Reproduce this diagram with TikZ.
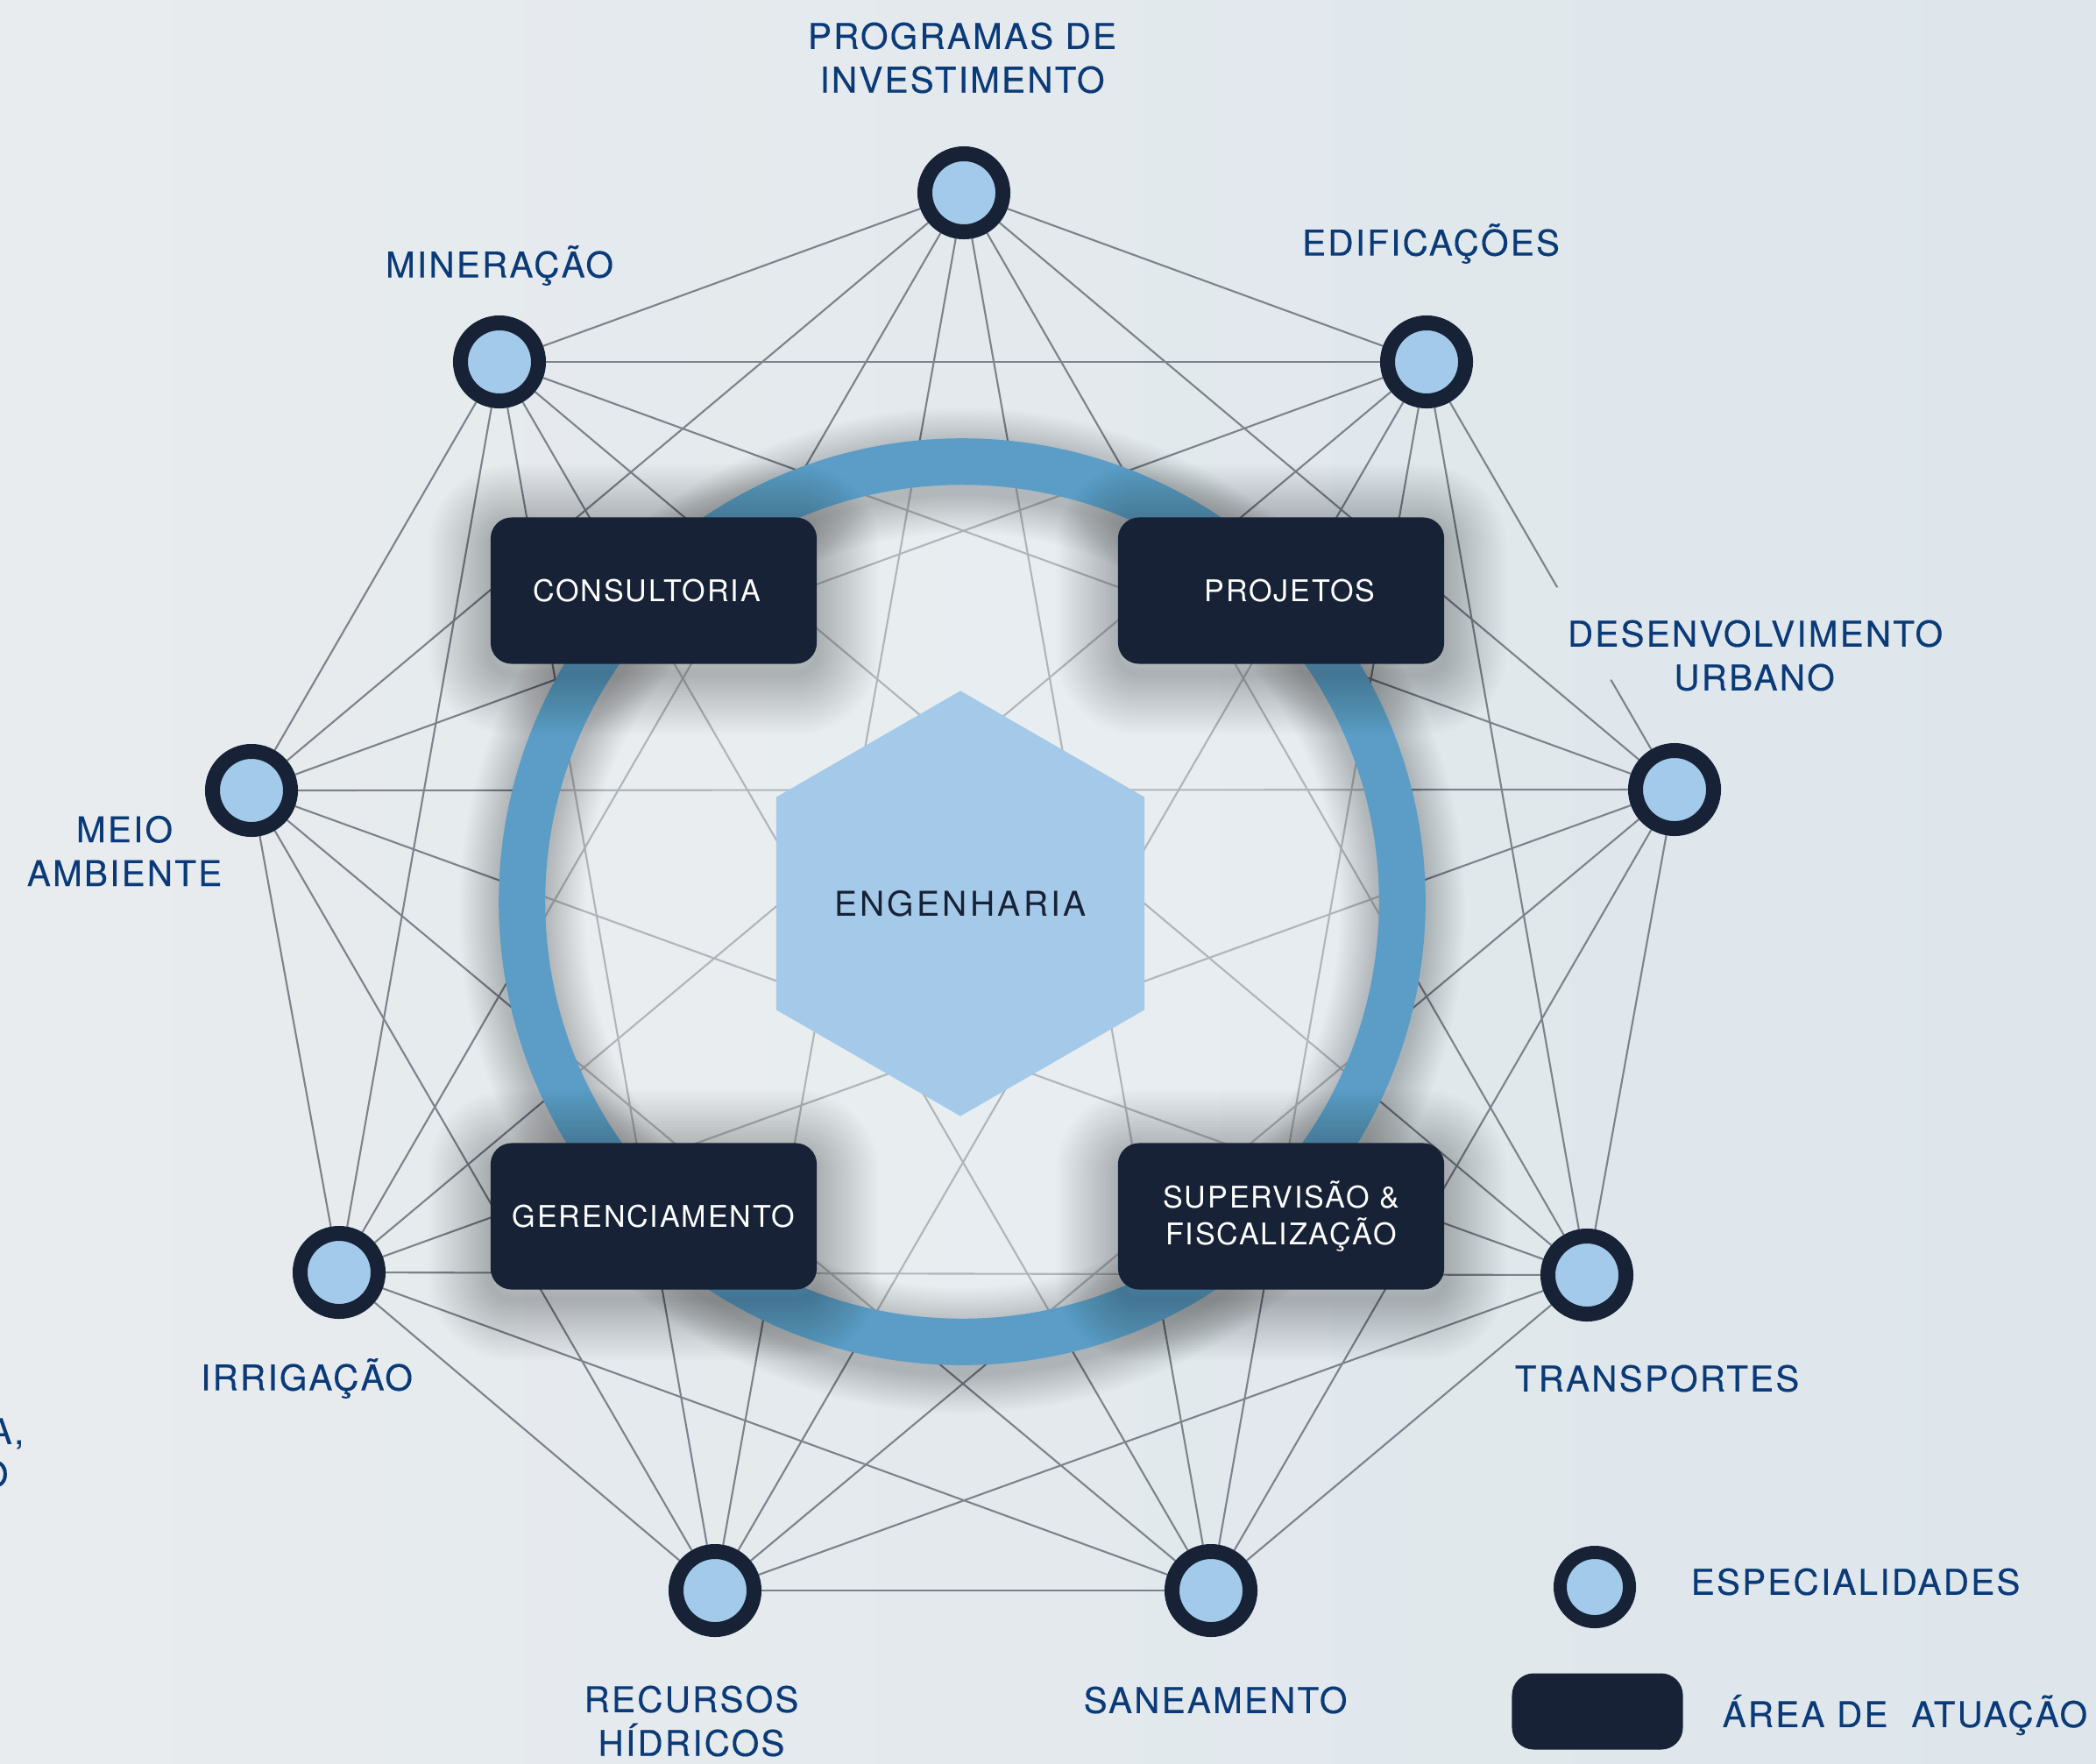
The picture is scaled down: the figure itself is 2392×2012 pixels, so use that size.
\documentclass[tikz,border=0pt]{standalone}
\usepackage{fontspec}
\usetikzlibrary{shapes.geometric}
\newfontfamily\lblfont[LetterSpace=5.5, FakeBold=0.3]{TeX Gyre Heros}
\newfontfamily\boxfont[LetterSpace=5.5]{TeX Gyre Heros}
\newfontfamily\hubfont[LetterSpace=8.5]{TeX Gyre Heros}

\definecolor{navy}{HTML}{172236}
\definecolor{labelblue}{HTML}{0A3A78}
\definecolor{dotblue}{HTML}{A3CAEA}
\definecolor{hexblue}{HTML}{A4C9E9}
\definecolor{ringblue}{HTML}{5B9DC7}
\definecolor{edgegray}{HTML}{7C838B}
\definecolor{bgleft}{HTML}{EEEFF0}
\definecolor{bgright}{HTML}{D8E3EA}
\definecolor{discfill}{HTML}{EEF2F4}
\pgfdeclarehorizontalshading{bgshade}{100bp}{color(0bp)=(bgleft); color(100bp)=(bgright)}

\pgfdeclarelayer{back}
\pgfdeclarelayer{edges}
\pgfdeclarelayer{top}
\pgfsetlayers{back,edges,main,top}

\tikzset{
  spec/.style={circle, draw=navy, line width=0.17cm, fill=dotblue, minimum size=0.89cm, inner sep=0pt},
  area/.style={rectangle, rounded corners=0.24cm, fill=navy, text=white, minimum width=3.72cm,
    minimum height=1.67cm, inner sep=0pt, align=center, font=\boxfont\fontsize{9.7}{12}\selectfont},
  hex/.style={regular polygon, regular polygon sides=6, shape border rotate=30, fill=hexblue,
    minimum size=4.85cm, inner sep=0pt, text=navy, font=\hubfont\fontsize{11.1}{13}\selectfont},
  ring/.style={draw=ringblue, line width=0.53cm},
  glow/.style={draw=black, draw opacity=0.011},
  lbl/.style={text=labelblue, align=center, inner sep=0pt, font=\lblfont\fontsize{11.5}{14.2}\selectfont},
  edge/.style={draw=edgegray, line width=0.6pt}
}

\begin{document}
\begin{tikzpicture}[x=0.01cm, y=-0.01cm]
\useasboundingbox (0,0) rectangle (2392,2012);
\begin{pgfonlayer}{back}
\shade[shading=bgshade] (0,0) rectangle (2392,2012);
\end{pgfonlayer}

\begin{pgfonlayer}{top}
\node[area] (cons) at (746,674) {CONSULTORIA\hspace{0.16cm}};
\node[area] (proj) at (1462,674) {\hspace{0.2cm}PROJETOS};
\node[area] (ger) at (746,1388) {GERENCIAMENTO};
\node[area] (sup) at (1462,1388) {SUPERVISÃO \&\\FISCALIZAÇÃO};
\node[hex] (eng) at (1096,1031) {ENGENHARIA};

\node[spec] (prog) at (1100,220) {};
\node[spec] (edif) at (1628,413) {};
\node[spec] (desenv) at (1911,901) {};
\node[spec] (transp) at (1811,1455) {};
\node[spec] (sanea) at (1382,1815) {};
\node[spec] (recur) at (816,1815) {};
\node[spec] (irrig) at (387,1452) {};
\node[spec] (meio) at (287,902) {};
\node[spec] (miner) at (570,413) {};

\node[lbl] (progl) at (1098,66) {PROGRAMAS DE\\INVESTIMENTO};
\node[lbl] (minerl) at (570,303) {MINERAÇÃO};
\node[lbl] (edifl) at (1633,278) {EDIFICAÇÕES};
\node[lbl, minimum height=1.04cm, inner xsep=0.15cm] (desenvl) at (2003,723) {DESENVOLVIMENTO};
\node[lbl] (desenvm) at (2002,773) {URBANO};
\node[lbl] (meiol) at (142,971) {MEIO\\AMBIENTE};
\node[lbl] (irrigl) at (350,1573) {IRRIGAÇÃO};
\node[lbl] (transpl) at (1891,1573) {TRANSPORTES};
\node[lbl] (recurl) at (789,1964) {RECURSOS\\HÍDRICOS};
\node[lbl] (saneal) at (1387,1940) {SANEAMENTO};
\node[lbl, anchor=east] (cuta) at (28,1636) {A,};
\node[lbl, anchor=east] (cuto) at (10,1682) {O};

\node[spec, minimum size=0.79cm, line width=0.15cm] (keyspec) at (1820,1811) {};
\node[lbl, anchor=west] (keyspecl) at (1929,1805) {ESPECIALIDADES};
\node[area, minimum width=1.95cm, minimum height=0.87cm, rounded corners=0.25cm] (keyarea) at (1823,1953) {};
\node[lbl, anchor=west] (keyareal) at (1965,1957) {ÁREA DE\ \ ATUAÇÃO};
\end{pgfonlayer}

\begin{pgfonlayer}{edges}
\begin{scope}[even odd rule]
\clip (0,0) rectangle (2392,2012) (desenvl.north west) rectangle (desenvl.south east);
\foreach \a [count=\i] in {prog,edif,desenv,transp,sanea,recur,irrig,meio,miner}
  \foreach \b [count=\j] in {prog,edif,desenv,transp,sanea,recur,irrig,meio,miner}
    {\ifnum\j>\i \draw[edge] (\a) -- (\b);\fi}
\end{scope}
\end{pgfonlayer}

\coordinate (hub) at (1098,1029);
\fill[discfill, opacity=0.45] (hub) circle (4.78cm);
\foreach \w in {5.8mm,6.3mm,6.8mm,7.3mm,7.8mm,8.3mm,8.8mm,9.3mm,9.8mm,10.3mm,10.8mm,11.3mm,11.8mm,12.3mm,12.8mm,13.3mm,13.8mm,14.3mm}
  \draw[glow, line width=\w] ([yshift=-0.1cm]hub) circle (5.02cm);
\draw[ring] (hub) circle (5.02cm);
\foreach \b in {cons,proj,ger,sup}
  \foreach \w in {0.7mm,1.4mm,2.1mm,2.8mm,3.5mm,4.2mm,4.9mm,5.6mm,6.3mm,7mm,7.7mm,8.4mm,9.1mm,9.8mm,10.5mm,11.2mm,11.9mm,12.6mm,13.3mm,14mm}
    \draw[glow, line width=\w, rounded corners=0.24cm] ([yshift=-0.1cm]\b.south west) rectangle ([yshift=-0.1cm]\b.north east);
\end{tikzpicture}
\end{document}
